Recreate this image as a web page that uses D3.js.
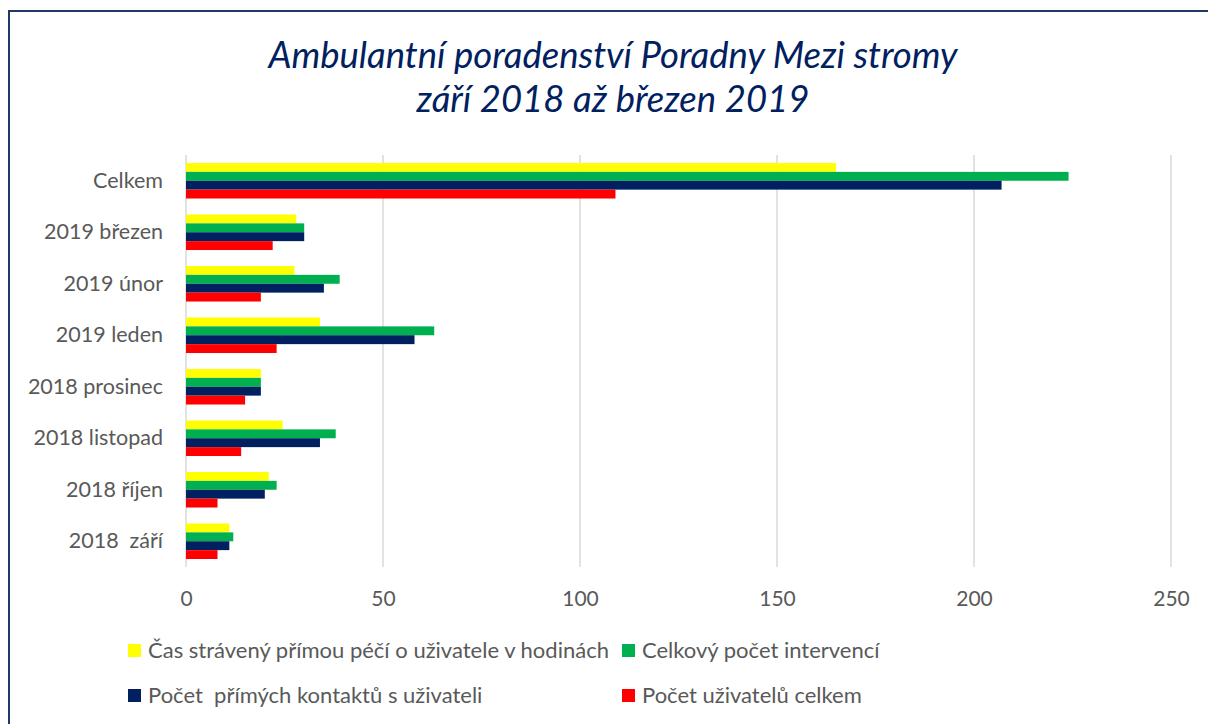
<!DOCTYPE html>
<html>
<head>
<meta charset="utf-8">
<script src="https://cdn.jsdelivr.net/npm/d3@7"></script>
<style>
  body { margin: 0; background: #fff; }
  text { font-family: Lato, "Open Sans", sans-serif; white-space: pre; }
</style>
</head>
<body>
<div id="chart"></div>
<script>
// DATA
const categories = ["Celkem", "2019 březen", "2019 únor", "2019 leden", "2018 prosinec", "2018 listopad", "2018 říjen", "2018  září"];
const seriesNames = [
    "Čas strávený přímou péčí o uživatele v hodinách",
    "Celkový počet intervencí",
    "Počet  přímých kontaktů s uživateli",
    "Počet uživatelů celkem"
];
const casHodiny = [165, 28, 27.5, 34, 19, 24.5, 21, 11];
const intervence = [224, 30, 39, 63, 19, 38, 23, 12];
const kontakty = [207, 30, 35, 58, 19, 34, 20, 11];
const uzivatele = [109, 22, 19, 23, 15, 14, 8, 8];
const xTicks = [0, 50, 100, 150, 200, 250];
const titleLines = ["Ambulantní poradenství Poradny Mezi stromy", "září 2018 až březen 2019"];

const colors = ["#FFFF00", "#00B050", "#002060", "#FF0000"];
const values = [casHodiny, intervence, kontakty, uzivatele];

// DIMENSIONS
const width = 1208, height = 724;
const plot = {left: 186, right: 1171, top: 155, bottom: 567};

let svg = d3.select("#chart")
    .append("svg")
    .attr("width", width)
    .attr("height", height);

// FRAME
svg.append("rect")
    .attr("x", 9).attr("y", 11)
    .attr("width", 1220).attr("height", 740)
    .attr("fill", "none")
    .attr("stroke", "#1F3864")
    .attr("stroke-width", 2);

// TITLE
svg.selectAll(".title")
    .data(titleLines)
    .enter().append("text")
    .attr("class", "title")
    .attr("x", 613)
    .attr("y", (d, i) => 68 + i * 44)
    .attr("text-anchor", "middle")
    .attr("fill", "#002060")
    .style("font-size", "36.5px")
    .style("font-style", "italic")
    .text(d => d);

// SCALES
let xScale = d3.scaleLinear()
    .domain([0, 250])
    .range([plot.left, plot.right]);

let yScale = d3.scaleBand()
    .domain(categories)
    .range([plot.top, plot.bottom])
    .paddingInner(0.31)
    .paddingOuter(0.155);

let ySub = d3.scaleBand()
    .domain(d3.range(seriesNames.length))
    .range([0, yScale.bandwidth()]);

// GRID
svg.append("g")
    .selectAll("line")
    .data(xTicks)
    .enter().append("line")
    .attr("x1", d => xScale(d)).attr("x2", d => xScale(d))
    .attr("y1", plot.top).attr("y2", plot.bottom)
    .attr("stroke", "#D9D9D9")
    .attr("stroke-width", 1.5);

// BARS
let rows = categories.map((c, i) => ({cat: c, vals: values.map(v => v[i])}));

let groups = svg.append("g")
    .selectAll(".group")
    .data(rows)
    .enter().append("g")
    .attr("class", "group")
    .attr("transform", d => "translate(0," + yScale(d.cat) + ")");

groups.selectAll("rect")
    .data(d => d.vals.map((v, k) => ({k: k, v: v})))
    .enter().append("rect")
    .attr("x", xScale(0))
    .attr("y", d => ySub(d.k))
    .attr("width", d => xScale(d.v) - xScale(0))
    .attr("height", ySub.bandwidth())
    .attr("fill", d => colors[d.k]);

// X AXIS
const xAxis = d3.axisBottom(xScale)
    .tickValues(xTicks)
    .tickSize(0)
    .tickPadding(0);
svg.append("g")
    .attr("transform", "translate(0,591)")
    .call(xAxis)
    .call(g => g.select(".domain").remove())
    .selectAll("text")
        .attr("dy", "0.71em")
        .attr("fill", "#595959")
        .style("font-size", "21px")
        .style("font-family", "Lato, sans-serif");

// Y AXIS
const yAxis = d3.axisLeft(yScale)
    .tickSize(0)
    .tickPadding(23);
svg.append("g")
    .attr("transform", "translate(" + plot.left + ",0)")
    .call(yAxis)
    .call(g => g.select(".domain").remove())
    .selectAll("text")
        .attr("fill", "#595959")
        .style("font-size", "21.5px")
        .style("font-family", "Lato, sans-serif");

// LEGEND
const legendPos = [[128, 644], [622, 644], [128, 689], [622, 689]];
let legend = svg.append("g")
    .selectAll(".legend")
    .data(seriesNames)
    .enter().append("g")
    .attr("class", "legend")
    .attr("transform", (d, i) => "translate(" + legendPos[i][0] + "," + legendPos[i][1] + ")");

legend.append("rect")
    .attr("width", 13).attr("height", 13)
    .attr("fill", (d, i) => colors[i]);

legend.append("text")
    .attr("x", 20)
    .attr("y", 14)
    .attr("fill", "#595959")
    .style("font-size", "22px")
    .text(d => d);
</script>
</body>
</html>
